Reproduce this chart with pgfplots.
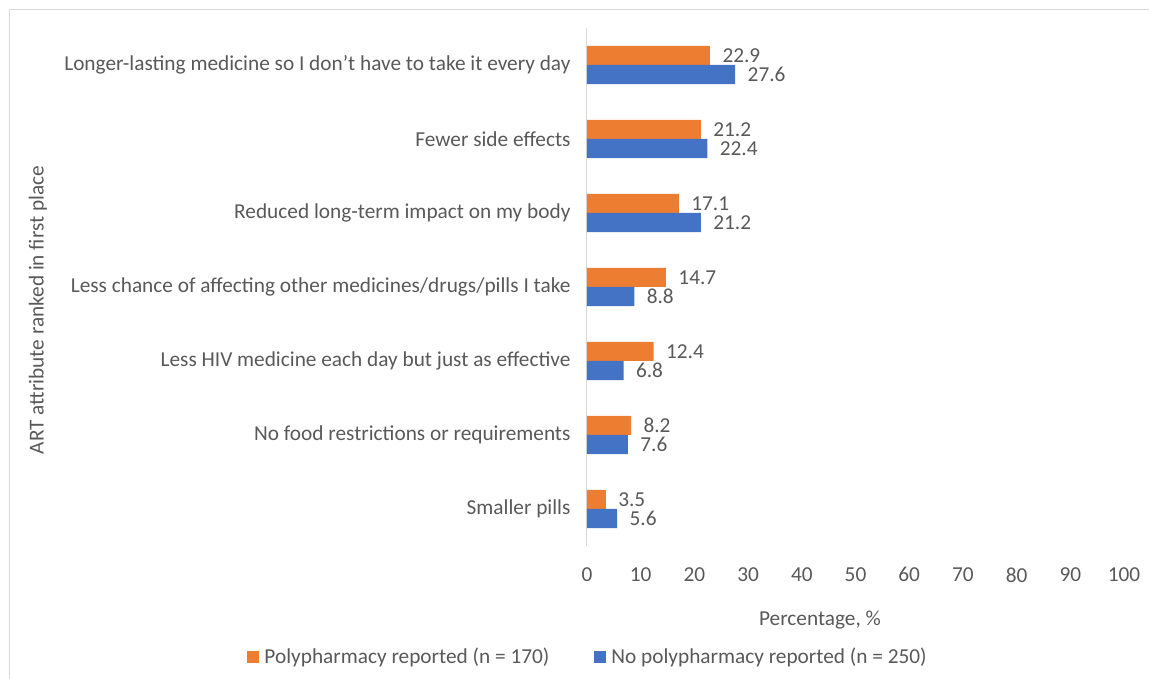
\documentclass[border=0pt]{standalone}
\usepackage{pgfplots}
\pgfplotsset{compat=1.18}
\usepackage{fontspec}
\setmainfont{Carlito}
\definecolor{orng}{HTML}{ED7D31}
\definecolor{blu}{HTML}{4472C4}
\definecolor{txt}{HTML}{595959}
\definecolor{axl}{HTML}{D9D9D9}
\newcommand{\cf}{\fontsize{21.3}{25}\selectfont}
\begin{document}
\begin{tikzpicture}[x=1pt,y=1pt]
\useasboundingbox (0,0) rectangle (1149,679);
\draw[axl, line width=1pt] (9.5,0) -- (9.5,669.5) -- (1149,669.5);
\begin{axis}[at={(587pt,133pt)}, anchor=south west, scale only axis,
  width=537pt, height=518pt,
  xbar,
  xmin=0, xmax=100, ymin=-0.5, ymax=6.5,
  xtick={0,10,...,100}, ytick={0,...,6},
  yticklabels={Smaller pills, No food restrictions or requirements, Less HIV medicine each day but just as effective, Less chance of affecting other medicines/drugs/pills I take, Reduced long-term impact on my body, Fewer side effects, Longer-lasting medicine so I don’t have to take it every day},
  axis lines=left, axis line style={-}, x axis line style={draw=none}, y axis line style={axl, line width=1pt},
  major tick length=0pt,
  /pgf/number format/assume math mode=true,
  tick label style={font=\cf, text=txt},
  xticklabel style={yshift=-18pt},
  yticklabel style={xshift=-13pt},
  legend style={at={(axis description cs:0.002,-0.214)}, anchor=center, draw=none, legend columns=2, font=\cf, text=txt,
    /tikz/every even column/.append style={column sep=43pt}},
  legend image code/.code={\fill[#1] (0pt,-6pt) rectangle (12pt,6pt); \path (15pt,0pt);},
  point meta=x,
  nodes near coords,
  every node near coord/.append style={font=\cf, text=txt, anchor=west, xshift=9pt,
    /pgf/number format/.cd, fixed, fixed zerofill, precision=1, assume math mode=true},
  clip=false,
]
\addplot[fill=orng, draw=none, bar width=0.257, bar shift=0.1285]
  coordinates {(3.5,0) (8.2,1) (12.4,2) (14.7,3) (17.1,4) (21.2,5) (22.9,6)};
\addplot[fill=blu, draw=none, bar width=0.257, bar shift=-0.1285]
  coordinates {(5.6,0) (7.6,1) (6.8,2) (8.8,3) (21.2,4) (22.4,5) (27.6,6)};
\legend{Polypharmacy reported (n = 170), No polypharmacy reported (n = 250)}
\end{axis}
\node[font=\cf, text=txt] at (820,59) {Percentage, \%};
\node[font=\cf, text=txt, rotate=90] at (38,369) {ART attribute ranked in first place};
\end{tikzpicture}
\end{document}
